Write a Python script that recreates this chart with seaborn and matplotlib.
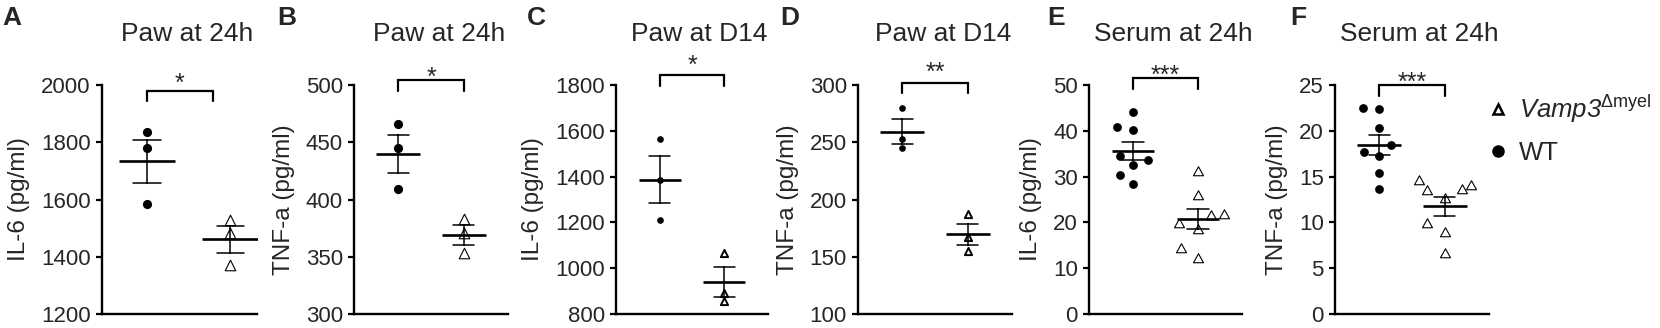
import numpy as np
import pandas as pd
import matplotlib
matplotlib.use('Agg')
import matplotlib.pyplot as plt
from matplotlib.lines import Line2D
from matplotlib.path import Path
import seaborn as sns

# group order on the x axis
groups = ['WT', 'Vamp3']

# values (pg/ml)
paw24_il6_wt = [1835, 1779, 1586]
paw24_il6_ko = [1530, 1483, 1372]
paw24_tnf_wt = [466, 445, 409]
paw24_tnf_ko = [383, 371, 353]
pawd14_il6_wt = [1565, 1383, 1209]
pawd14_il6_ko = [1068, 890, 857]
pawd14_tnf_wt = [280, 253, 245]
pawd14_tnf_ko = [187, 167, 155]
serum_il6_wt = [44.1, 40.2, 40.9, 33.6, 34.5, 32.5, 30.4, 28.4]
serum_il6_ko = [31.3, 26.0, 21.6, 21.9, 19.9, 18.6, 14.4, 12.2]
serum_tnf_wt = [22.5, 22.4, 20.3, 18.4, 17.7, 17.2, 15.4, 13.7]
serum_tnf_ko = [13.6, 14.1, 14.6, 13.5, 12.7, 9.9, 9.0, 6.7]

letters = ['A', 'B', 'C', 'D', 'E', 'F']
titles = ['Paw at 24h', 'Paw at 24h', 'Paw at D14', 'Paw at D14',
          'Serum at 24h', 'Serum at 24h']
ylabels = ['IL-6 (pg/ml)', 'TNF-a (pg/ml)', 'IL-6 (pg/ml)', 'TNF-a (pg/ml)',
           'IL-6 (pg/ml)', 'TNF-a (pg/ml)']
yticks = [[1200, 1400, 1600, 1800, 2000],
          [300, 350, 400, 450, 500],
          [800, 1000, 1200, 1400, 1600, 1800],
          [100, 150, 200, 250, 300],
          [0, 10, 20, 30, 40, 50],
          [0, 5, 10, 15, 20, 25]]
stars = ['*', '*', '*', '**', '***', '***']
bracket_tops = [1980, 504, 1843, 302, 51.5, 25]

wt_data = [paw24_il6_wt, paw24_tnf_wt, pawd14_il6_wt, pawd14_tnf_wt, serum_il6_wt, serum_tnf_wt]
ko_data = [paw24_il6_ko, paw24_tnf_ko, pawd14_il6_ko, pawd14_tnf_ko, serum_il6_ko, serum_tnf_ko]

# layout (pixels of a 1660x328 canvas)
W, H = 1660, 328
ax_left = [101.7, 354, 616, 858, 1089, 1335]
ax_right = [257, 508, 768, 1012, 1242, 1489]
ax_top, ax_bottom = 85, 314
xlims = [(-0.54, 1.32)] + [(-0.68, 1.68)] * 5
bracket_end = [0.79, 1, 1, 1, 1, 1]
star_off_px = [-0.3, -4.7, 2.7, 2.7, -4.7, -5.3]
letter_x = [2, 277, 527, 780, 1047, 1290]
small = [False, False, True, True, False, False]


def padded_marker(path, pad):
    # marker glyph inside a larger invisible box, so the swarm spreads wider
    verts = np.vstack([[[-pad, -pad], [pad, pad]], path.vertices])
    codes = np.concatenate([[Path.MOVETO, Path.MOVETO], path.codes])
    return Path(verts, codes)


PAD = 1.75
circle_pad = padded_marker(Path.unit_circle(), PAD)
tri = Path([(0, 0.95), (-1, -0.85), (1, -0.85), (0, 0.95)],
           [Path.MOVETO, Path.LINETO, Path.LINETO, Path.CLOSEPOLY])
tri_pad = padded_marker(tri, PAD)

sns.set_style('ticks')
plt.rcParams['font.family'] = ['Liberation Sans', 'DejaVu Sans']
plt.rcParams['mathtext.fontset'] = 'custom'
# digits fall back to "rm" inside \mathit, so rm is italic here and sf upright
plt.rcParams['mathtext.rm'] = 'Liberation Sans:italic'
plt.rcParams['mathtext.it'] = 'Liberation Sans:italic'
plt.rcParams['mathtext.sf'] = 'Liberation Sans'

fig = plt.figure(figsize=(W / 100, H / 100), dpi=100)
px2pt = 72 / 100

for i in range(6):
    rect = [ax_left[i] / W, 1 - ax_bottom / H,
            (ax_right[i] - ax_left[i]) / W, (ax_bottom - ax_top) / H]
    ax = fig.add_axes(rect)
    df = pd.DataFrame({
        'group': ['WT'] * len(wt_data[i]) + ['Vamp3'] * len(ko_data[i]),
        'value': wt_data[i] + ko_data[i],
    })
    wt = df[df['group'] == 'WT']
    ko = df[df['group'] == 'Vamp3']

    if small[i]:
        sns.stripplot(data=wt, x='group', y='value', order=groups, jitter=False,
                      marker='o', color='black', size=4.8, linewidth=0, ax=ax, zorder=3)
        sns.stripplot(data=ko, x='group', y='value', order=groups, jitter=False,
                      marker='^', color='white', edgecolor='black', size=5.2,
                      linewidth=1.4, ax=ax, zorder=3)
    elif len(wt) > 3:
        sns.swarmplot(data=wt, x='group', y='value', order=groups,
                      marker=circle_pad, color='black', size=6.3 * PAD, linewidth=0,
                      ax=ax, zorder=3)
        sns.swarmplot(data=ko, x='group', y='value', order=groups,
                      marker=tri_pad, color='white', edgecolor='black', size=7.2 * PAD,
                      linewidth=0.8, ax=ax, zorder=3)
    else:
        sns.stripplot(data=wt, x='group', y='value', order=groups, jitter=False,
                      marker='o', color='black', size=6.6, linewidth=0, ax=ax, zorder=3)
        sns.stripplot(data=ko, x='group', y='value', order=groups, jitter=False,
                      marker='^', color='white', edgecolor='black', size=7.6,
                      linewidth=0.8, ax=ax, zorder=3)

    # mean +/- SEM
    unit_px = (ax_right[i] - ax_left[i]) / (xlims[i][1] - xlims[i][0])
    sns.pointplot(data=df, x='group', y='value', order=groups, errorbar='se',
                  capsize=0.33, color='black', markers='_', linestyles='none',
                  markersize=0.66 * unit_px * px2pt, markeredgewidth=1.9,
                  err_kws={'linewidth': 1.1}, ax=ax, zorder=4)

    ymin, ymax = yticks[i][0], yticks[i][-1]
    ax.set_ylim(ymin, ymax)
    ax.set_xlim(*xlims[i])
    ax.set_yticks(yticks[i])
    ax.set_xticks([])
    ax.set_xlabel('')
    ax.set_ylabel(ylabels[i], fontsize=17.5, labelpad=8)
    ax.tick_params(axis='y', labelsize=16, length=4, width=1.6, pad=4, color='black')
    for s in ['top', 'right']:
        ax.spines[s].set_visible(False)
    for s in ['left', 'bottom']:
        ax.spines[s].set_linewidth(1.7)
        ax.spines[s].set_color('black')
    ax.set_title(titles[i], fontsize=19, pad=31.7, x=0.55)

    # significance bracket
    leg = 10.5 / (ax_bottom - ax_top) * (ymax - ymin)
    top = bracket_tops[i]
    x1 = bracket_end[i]
    ax.plot([0, 0, x1, x1], [top - leg, top, top, top - leg], color='black',
            lw=1.6, clip_on=False, solid_joinstyle='miter')
    ax.annotate(stars[i], xy=(x1 / 2, top), xytext=(0, star_off_px[i] * px2pt),
                textcoords='offset points', ha='center', va='baseline',
                fontsize=18, annotation_clip=False)

    fig.text(letter_x[i] / W, 1 - 6 / H, letters[i], fontsize=19,
             fontweight='bold', ha='left', va='top')

handles = [Line2D([], [], marker='^', linestyle='none', markerfacecolor='white',
                  markeredgecolor='black', markeredgewidth=1.8, markersize=7),
           Line2D([], [], marker='o', linestyle='none', color='black', markersize=8)]
labels = [r'$\mathit{Vamp3}^{\mathsf{Δmyel}}$', 'WT']
fig.legend(handles, labels, loc='upper left', bbox_to_anchor=(1487.7 / W, 1 - 93 / H),
           frameon=False, fontsize=18.5, borderpad=0, borderaxespad=0,
           handlelength=0.8, handletextpad=0.4, labelspacing=0.62)

fig.savefig('out.png', dpi=100)
